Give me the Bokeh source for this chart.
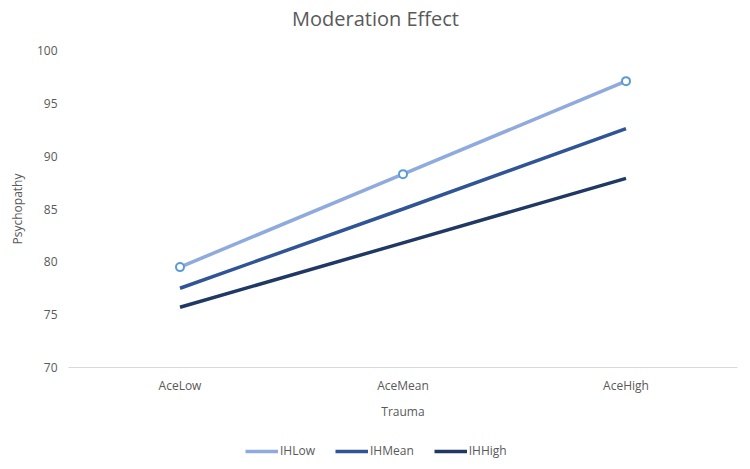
from bokeh.plotting import figure
from bokeh.models import Range1d, Legend, LegendItem, ColumnDataSource, Label
from bokeh.layouts import column
from bokeh.embed import file_html
from bokeh.resources import INLINE

title_text = "Moderation Effect"
categories = ["AceLow", "AceMean", "AceHigh"]
ih_low = [79.5, 88.3, 97.1]
ih_mean = [77.5, 85.0, 92.6]
ih_high = [75.7, 81.8, 87.9]
series_names = ["IHLow", "IHMean", "IHHigh"]
colors = ["#8faadc", "#2f5597", "#203864"]

FONT = "Open Sans"
GREY = "#595959"

# title strip
top = figure(width=750, height=36, x_range=Range1d(0, 1), y_range=Range1d(0, 1),
             output_backend="svg", toolbar_location=None,
             min_border_left=68, min_border_right=13, min_border_top=0, min_border_bottom=0)
top.axis.visible = False
top.grid.visible = False
top.outline_line_color = None
top.add_layout(Label(x=(375 - 68) / 669, y=0.5, text=title_text, text_align="center",
                     text_baseline="middle", text_font=FONT, text_font_size="20px",
                     text_color=GREY))

p = figure(width=750, height=396, x_range=categories, y_range=Range1d(70, 100),
           output_backend="svg", toolbar_location=None,
           min_border_left=68, min_border_right=13, min_border_top=14, min_border_bottom=65)

p.outline_line_color = None
p.xgrid.grid_line_color = None
p.ygrid.grid_line_color = None

p.yaxis.ticker = [70, 75, 80, 85, 90, 95, 100]
p.yaxis.axis_line_color = None
p.yaxis.major_tick_line_color = None
p.yaxis.minor_tick_line_color = None
p.yaxis.major_label_text_font = FONT
p.yaxis.major_label_text_font_size = "12px"
p.yaxis.major_label_text_color = GREY
p.yaxis.axis_label = "Psychopathy"
p.yaxis.axis_label_text_font = FONT
p.yaxis.axis_label_text_font_size = "12px"
p.yaxis.axis_label_text_font_style = "normal"
p.yaxis.axis_label_text_color = GREY
p.yaxis.axis_label_standoff = 8

p.xaxis.axis_line_color = "#d9d9d9"
p.xaxis.major_tick_line_color = None
p.xaxis.minor_tick_line_color = None
p.xaxis.major_label_text_font = FONT
p.xaxis.major_label_text_font_size = "12px"
p.xaxis.major_label_text_color = GREY
p.xaxis.major_label_standoff = 3
p.xaxis.axis_label = "Trauma"
p.xaxis.axis_label_text_font = FONT
p.xaxis.axis_label_text_font_size = "12px"
p.xaxis.axis_label_text_font_style = "normal"
p.xaxis.axis_label_text_color = GREY
p.xaxis.axis_label_standoff = 6

for name, vals, col in zip(series_names, [ih_low, ih_mean, ih_high], colors):
    src = ColumnDataSource(dict(x=categories, y=vals))
    p.line("x", "y", source=src, line_color=col, line_width=3.5)

src_low = ColumnDataSource(dict(x=categories, y=ih_low))
p.scatter("x", "y", source=src_low, size=8, marker="circle",
          fill_color="white", line_color="#5b9bd5", line_width=2)

# legend strip below the chart (its lines lie outside the strip's visible range)
leg = figure(width=750, height=37, x_range=Range1d(0, 1), y_range=Range1d(0, 1),
             output_backend="svg", toolbar_location=None,
             min_border_left=68, min_border_right=13, min_border_top=0, min_border_bottom=0)
leg.axis.visible = False
leg.grid.visible = False
leg.outline_line_color = None
items = []
for name, col in zip(series_names, colors):
    r = leg.line(x=[5, 6], y=[5, 6], line_color=col, line_width=3.5)
    items.append(LegendItem(label=name, renderers=[r]))
legend = Legend(items=items, orientation="horizontal", location=(177, 10),
                label_text_font=FONT, label_text_font_size="12px", label_text_color=GREY,
                glyph_width=33, glyph_height=16, label_height=16,
                label_standoff=2, spacing=20, border_line_color=None,
                background_fill_alpha=0, margin=0, padding=0)
leg.add_layout(legend, "center")

open("out.html", "w").write(file_html(column(top, p, leg, spacing=0), INLINE))
